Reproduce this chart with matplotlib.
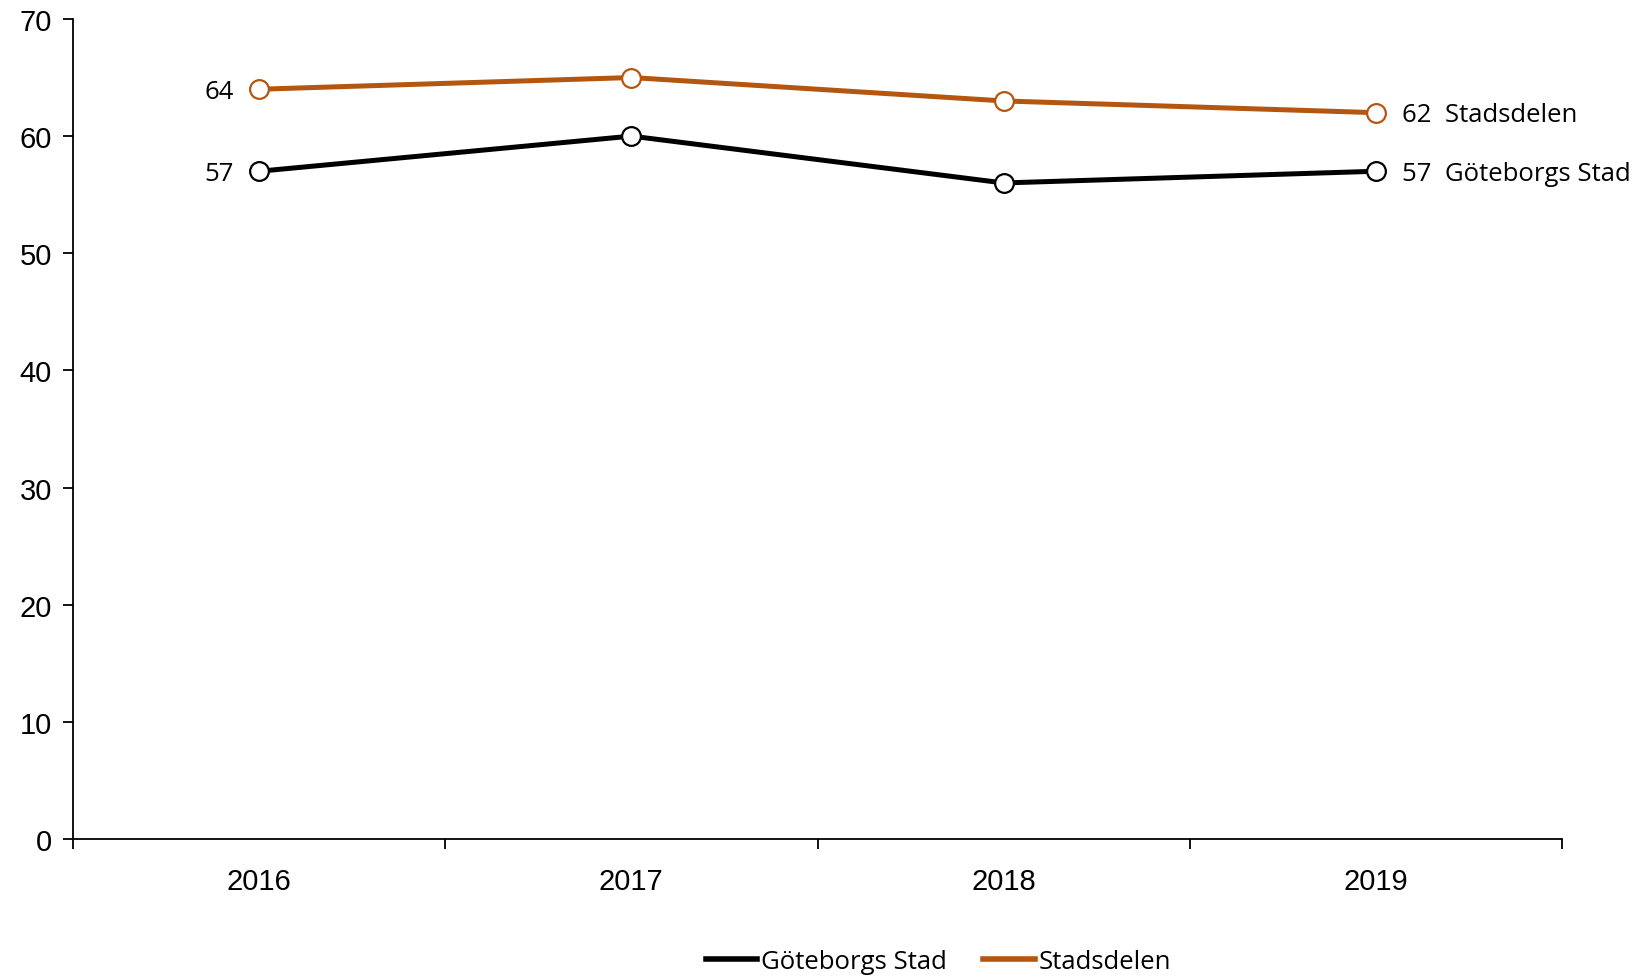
import matplotlib.pyplot as plt
import numpy as np

# data
years = ["2016", "2017", "2018", "2019"]
goteborg = [57, 60, 56, 57]
stadsdelen = [64, 65, 63, 62]
series_names = ["Göteborgs Stad", "Stadsdelen"]

black = "#000000"
orange = "#B4560F"

fig = plt.figure(figsize=(16.35, 9.78), dpi=100)
ax = fig.add_axes([0.0446, 0.1411, 0.9108, 0.8385])

x = np.arange(len(years))

# draw the two series
for vals, col, name in [(goteborg, black, series_names[0]), (stadsdelen, orange, series_names[1])]:
    ax.plot(x, vals, color=col, lw=3.6, marker="o", ms=13.5, mfc="white",
            mec=col, mew=1.6, label=name, zorder=3)
    # first value on the left, last value + name on the right
    ax.annotate(str(vals[0]), (x[0], vals[0]), xytext=(-25, -2), textcoords="offset pixels",
                ha="right", va="center", fontsize=18.5, family="Open Sans")
    ax.annotate(f"{vals[-1]}  {name}", (x[-1], vals[-1]), xytext=(26, -2),
                textcoords="offset pixels", ha="left", va="center", fontsize=18.5,
                family="Open Sans", annotation_clip=False)

ax.set_xlim(-0.5, len(years) - 0.5)
ax.set_ylim(0, 70)
ax.set_yticks(range(0, 71, 10))

# tick marks on the category borders, labels in the middle
ax.set_xticks(np.arange(-0.5, len(years), 1.0))
ax.set_xticklabels([])
ax.set_xticks(x, minor=True)
ax.set_xticklabels(years, minor=True)
ax.tick_params(axis="x", which="minor", length=0, pad=20)
ax.tick_params(axis="x", which="major", length=7, width=1.3, direction="out")
ax.tick_params(axis="y", length=7, width=1.3, direction="out", pad=8)

for lab in ax.get_yticklabels() + ax.get_xticklabels(minor=True):
    lab.set_fontsize(21)
    lab.set_family("Liberation Sans")

for s in ["top", "right"]:
    ax.spines[s].set_visible(False)
ax.spines["left"].set_linewidth(1.3)
ax.spines["bottom"].set_linewidth(1.3)

handles = [plt.Line2D([], [], color=black, lw=4), plt.Line2D([], [], color=orange, lw=4)]
fig.legend(handles, series_names, loc="center", bbox_to_anchor=(0.574, 0.016), ncol=2,
           frameon=False, prop={"family": "Open Sans", "size": 18.5},
           handlelength=2.0, handletextpad=0.15, columnspacing=1.4)

fig.savefig("out.png", dpi=100)
